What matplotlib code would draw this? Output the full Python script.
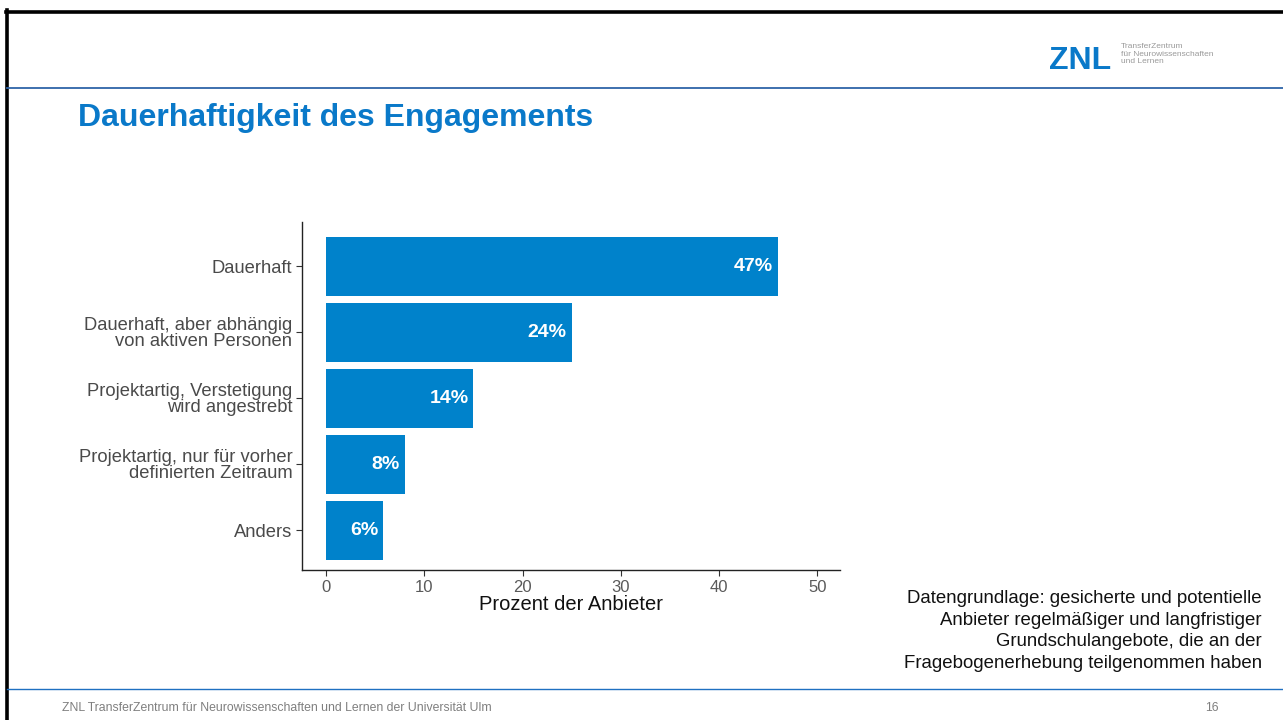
import matplotlib
matplotlib.use("Agg")
from matplotlib import pyplot as plt
from matplotlib.lines import Line2D

plt.rcParams['font.family'] = ['Liberation Sans', 'DejaVu Sans']

# chart data (top to bottom as shown)
categories = ["Dauerhaft",
              "Dauerhaft, aber abhängig\nvon aktiven Personen",
              "Projektartig, Verstetigung\nwird angestrebt",
              "Projektartig, nur für vorher\ndefinierten Zeitraum",
              "Anders"]
bar_values = [46, 25, 15, 8, 5.8]
bar_labels = ["47%", "24%", "14%", "8%", "6%"]
x_ticks = [0, 10, 20, 30, 40, 50]

W, H = 1283, 720
BAR_BLUE = "#0082cb"
TITLE_BLUE = "#0a79c9"
LINE_BLUE = "#2e64a8"

fig = plt.figure(figsize=(W / 100, H / 100), dpi=100)

# slide frame
def hline(y, x0, x1, color, lw):
    fig.add_artist(Line2D([x0 / W, x1 / W], [1 - y / H, 1 - y / H], color=color, lw=lw))

def vline(x, y0, y1, color, lw):
    fig.add_artist(Line2D([x / W, x / W], [1 - y0 / H, 1 - y1 / H], color=color, lw=lw))

hline(11.5, 5.5, W, "black", 2.6)
vline(7, 10, H, "black", 2.6)
hline(87.5, 7, W, LINE_BLUE, 1.3)
hline(688.5, 7, W, "#1f70c1", 1.0)

# logo
fig.text(1049 / W, 1 - 61 / H, "ZNL", color="#0a79c9", fontsize=23, fontweight="bold",
         va="center", ha="left")
fig.text(1121 / W, 1 - 54 / H, "TransferZentrum\nfür Neurowissenschaften\nund Lernen",
         color="#9a9a9a", fontsize=6.0, va="center", ha="left", linespacing=1.1)

# title
fig.text(78 / W, 1 - 118 / H, "Dauerhaftigkeit des Engagements", color=TITLE_BLUE,
         fontsize=23, fontweight="bold", va="center", ha="left")

# footnote
fig.text(1262 / W, 1 - 631 / H,
         "Datengrundlage: gesicherte und potentielle\nAnbieter regelmäßiger und langfristiger\n"
         "Grundschulangebote, die an der\nFragebogenerhebung teilgenommen haben",
         fontsize=13.4, ha="right", va="center", linespacing=1.36, color="#111111")

# footer
fig.text(62 / W, 1 - 708 / H,
         "ZNL TransferZentrum für Neurowissenschaften und Lernen der Universität Ulm",
         fontsize=8.8, color="#7f7f7f", va="center", ha="left")
fig.text(1219 / W, 1 - 708 / H, "16", fontsize=8.8, color="#7f7f7f", va="center", ha="right")

# bar chart
ax = fig.add_axes([302 / W, (H - 570) / H, (840 - 302) / W, (570 - 222) / H])
pos = list(range(len(categories), 0, -1))
ax.barh(pos, bar_values, height=0.9, color=BAR_BLUE)
for p, v, lab in zip(pos, bar_values, bar_labels):
    ax.text(v - 0.5, p, lab, color="white", fontsize=14, fontweight="bold",
            ha="right", va="center")

ax.set_xlim(-2.45, 52.3)
ax.set_ylim(0.4, 5.67)
ax.set_yticks(pos)
ax.set_yticklabels(categories, fontsize=13.2, color="#4a4a4a", linespacing=0.88)
ax.set_xticks(x_ticks)
ax.set_xticklabels([str(t) for t in x_ticks], fontsize=12, color="#5a5a5a")
ax.tick_params(axis="both", length=4, width=0.8, color="#333333", pad=3)
ax.set_xlabel("Prozent der Anbieter", fontsize=14.5, color="#111111", labelpad=0)

for side in ["top", "right"]:
    ax.spines[side].set_visible(False)
for side in ["left", "bottom"]:
    ax.spines[side].set_color("#222222")
    ax.spines[side].set_linewidth(1.0)

fig.savefig("out.png", dpi=100)
